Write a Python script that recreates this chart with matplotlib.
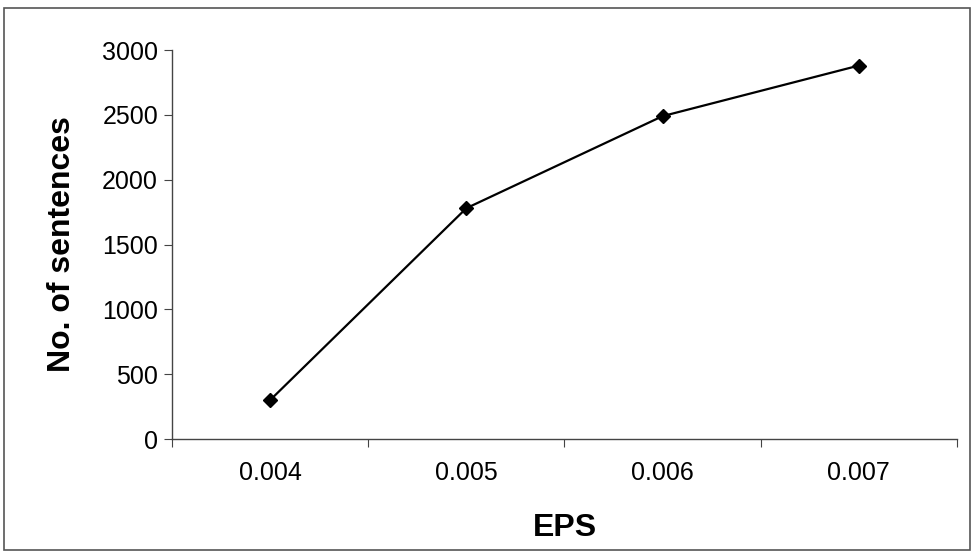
import matplotlib.pyplot as plt
from matplotlib.patches import Rectangle

# Datos
eps_labels = ["0.004", "0.005", "0.006", "0.007"]
sentences = [300, 1780, 2490, 2880]

parameters = {
    "font": "Liberation Sans",
    "tick fontsize": 18,
    "label fontsize": 23,
}

plt.rcParams["font.family"] = parameters["font"]
fig = plt.figure(figsize=(9.74, 5.52), dpi=100)
ax = fig.add_axes([0.1766, 0.2047, 0.8059, 0.7047])

# marco exterior de la grafica
fig.patches.append(Rectangle((0.004, 0.004), 0.992, 0.982,
                             transform=fig.transFigure,
                             fill=False, edgecolor="#555555", lw=1.2))

positions = [i + 0.5 for i in range(len(eps_labels))]
ax.plot(positions, sentences, color="black", lw=1.6,
        marker="D", markersize=7, markerfacecolor="black")

ax.set_xlim(0, len(eps_labels))
ax.set_ylim(0, 3000)
ax.set_xticks(range(len(eps_labels) + 1))
ax.set_xticklabels([])
ax.set_xticks(positions, minor=True)
ax.set_xticklabels(eps_labels, minor=True,
                   fontsize=parameters["tick fontsize"])
ax.tick_params(axis="x", which="minor", length=0, pad=16)
ax.tick_params(axis="x", which="major", length=6, direction="out",
               color="#444444")
ax.set_yticks(range(0, 3001, 500))
ax.tick_params(axis="y", labelsize=parameters["tick fontsize"],
               length=6, direction="out", color="#444444", pad=4)

for side in ["top", "right"]:
    ax.spines[side].set_visible(False)
for side in ["left", "bottom"]:
    ax.spines[side].set_color("#444444")
    ax.spines[side].set_linewidth(1.0)

ax.set_xlabel("EPS", fontsize=parameters["label fontsize"],
              fontweight="bold", labelpad=20)
ax.set_ylabel("No. of sentences", fontsize=parameters["label fontsize"],
              fontweight="bold", labelpad=18)

fig.savefig("out.png", dpi=100)
